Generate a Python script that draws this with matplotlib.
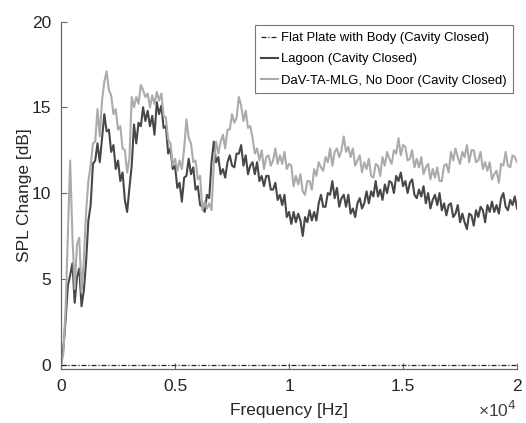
import numpy as np
import matplotlib
matplotlib.use("Agg")
import matplotlib.pyplot as plt

plt.rcParams['font.family'] = ['Liberation Sans', 'DejaVu Sans']

# frequency grid [Hz], 100 Hz steps
freq = np.arange(0, 20001, 100)

flat_plate = np.zeros(len(freq))

lagoon = [
    0.0, 0.9, 2.6, 4.6, 5.2, 5.9, 3.6, 5.1, 5.6, 3.4,
    4.3, 6.0, 8.4, 9.3, 11.7, 11.9, 12.9, 11.8, 13.2, 14.6,
    13.6, 13.7, 12.4, 12.8, 11.4, 11.9, 10.7, 11.2, 9.6, 8.9,
    10.3, 11.6, 14.0, 12.9, 14.1, 13.9, 15.0, 14.2, 14.8, 13.9,
    14.5, 13.4, 15.3, 14.6, 15.1, 13.8, 13.9, 12.3, 12.6, 11.4,
    11.6, 10.3, 10.6, 9.5, 10.9, 11.0, 12.0, 11.1, 11.5, 10.2,
    10.4, 9.3, 9.2, 8.9, 9.9, 9.7,
    11.8, 13.0, 11.8, 12.1, 11.1, 11.4, 10.9, 11.8, 12.2, 11.6,
    11.5, 12.3, 12.3, 12.8, 11.6, 12.2, 11.1, 11.6, 11.8, 11.1,
    11.8, 10.7, 11.0, 10.4, 11.0, 11.0, 10.2, 10.2, 10.6, 9.6,
    9.9, 9.3, 9.9, 8.6, 8.9, 8.2, 8.9, 8.3, 8.8, 8.4,
    7.5, 8.6, 8.3, 9.0, 8.4, 8.9, 8.4, 9.4, 9.9, 9.2,
    9.2, 10.0, 9.9, 10.7, 9.7, 10.3, 9.2, 9.7, 9.9, 9.2,
    9.9, 8.8, 9.1, 8.6, 9.4, 9.7, 9.1, 9.4, 10.1, 9.4,
    10.1, 9.8, 10.7, 9.8, 10.2, 9.6, 10.5, 10.0, 10.7, 10.6,
    10.0, 11.0, 10.7, 11.2, 10.4, 10.7, 10.0, 10.6, 10.8, 9.9,
    9.7, 10.2, 9.8, 10.4, 9.4, 10.0, 9.1, 9.6, 9.9, 9.3,
    10.0, 9.0, 9.4, 8.7, 9.3, 9.4, 8.6, 8.8, 9.3, 8.3,
    8.8, 8.3, 7.9, 8.8, 8.7, 8.1, 9.0, 8.6, 9.2, 9.0,
    8.3, 9.3, 8.9, 9.5, 8.9, 9.3, 8.8, 9.7, 10.0, 9.2,
    9.0, 9.6, 9.3, 9.8, 9.1,
]

dav = [
    0.0, 0.6, 3.2, 7.6, 11.9, 7.5, 4.4, 7.0, 7.4, 4.2,
    6.1, 8.9, 10.7, 11.6, 12.9, 13.0, 14.9, 13.3, 15.4, 16.5,
    17.1, 16.0, 15.7, 14.6, 14.9, 13.7, 13.9, 12.6, 12.5, 11.2,
    12.0, 15.6, 15.0, 15.6, 15.2, 16.3, 16.0, 15.6, 15.8, 15.0,
    15.7, 15.2, 15.9, 15.4, 15.8, 14.5, 14.4, 13.1, 12.9, 11.6,
    12.0, 11.3, 11.9, 11.4, 12.6, 14.3, 13.2, 12.9, 11.8, 11.9,
    10.8, 11.0, 9.0, 9.5, 9.1, 9.4, 9.0,
    11.7, 13.0, 12.3, 13.0, 13.4, 12.6, 13.7, 13.7, 14.6, 14.1,
    14.4, 15.6, 15.1, 14.2, 14.8, 13.8, 13.9, 13.2, 12.3, 12.6,
    11.9, 12.5, 11.4, 12.1, 12.2, 11.6, 11.9, 12.6, 11.7, 12.2,
    11.7, 12.4, 11.4, 11.7, 11.6, 10.4, 11.0, 10.5, 11.1, 10.1,
    9.9, 10.7, 10.7, 10.2, 11.4, 11.0, 11.8, 11.5, 11.3, 12.1,
    11.8, 12.6, 11.6, 12.4, 12.6, 12.1, 12.5, 13.3, 12.4, 12.7,
    12.1, 12.6, 11.6, 11.9, 12.2, 11.2, 11.8, 11.4, 12.0, 11.0,
    10.9, 11.7, 11.6, 11.0, 12.1, 11.6, 12.4, 12.0, 11.7, 12.5,
    12.3, 13.2, 12.2, 12.8, 12.7, 11.9, 12.0, 12.5, 11.5, 12.0,
    11.5, 12.1, 11.1, 11.5, 11.7, 10.8, 11.4, 10.9, 11.5, 10.7,
    10.7, 11.6, 11.7, 11.2, 12.4, 11.9, 12.6, 12.1, 11.7, 12.4,
    12.1, 12.8, 11.8, 12.5, 12.5, 11.8, 11.9, 12.4, 11.4, 11.8,
    11.3, 11.8, 10.8, 11.1, 11.3, 10.6, 11.7, 11.6, 12.4, 11.6,
    11.5, 12.2, 12.1, 11.8,
]

labels = ["Flat Plate with Body (Cavity Closed)",
          "Lagoon (Cavity Closed)",
          "DaV-TA-MLG, No Door (Cavity Closed)"]

x_ticks = [0, 5000, 10000, 15000, 20000]
x_ticklabels = ["0", "0.5", "1", "1.5", "2"]
y_ticks = [0, 5, 10, 15, 20]

fig = plt.figure(figsize=(5.26, 4.23), dpi=100)
ax = fig.add_axes([0.116, 0.128, 0.867, 0.821])

ax.plot(freq, flat_plate, color='#222222', lw=0.9, ls=(0, (4, 1.5, 1, 1.5)), label=labels[0])
ax.plot(freq, lagoon, color='#474747', lw=1.5, label=labels[1])
ax.plot(freq, dav, color='#ababab', lw=1.5, label=labels[2])

ax.set_xlim(0, 20000)
ax.set_ylim(-0.25, 20)
ax.set_xticks(x_ticks)
ax.set_xticklabels(x_ticklabels)
ax.set_yticks(y_ticks)

for s in ['top', 'right']:
    ax.spines[s].set_visible(False)
for s in ['left', 'bottom']:
    ax.spines[s].set_color('#6a6a6a')
    ax.spines[s].set_linewidth(0.9)

ax.tick_params(direction='in', length=4, width=0.8, color='#6a6a6a',
               labelsize=12.5, labelcolor='#262626')
ax.tick_params(axis='y', pad=7)
ax.tick_params(axis='x', pad=7)

ax.set_xlabel("Frequency [Hz]", fontsize=12.5, color='#262626', labelpad=7)
ax.set_ylabel("SPL Change [dB]", fontsize=12.5, color='#262626', labelpad=0)
ax.text(1.0, -0.148, "×10$^{4}$", transform=ax.transAxes, ha='right', va='bottom',
        fontsize=12.5, color='#404040')

leg = ax.legend(loc='upper right', fontsize=9.4, frameon=True, fancybox=False,
                handlelength=1.3, handletextpad=0.2, borderpad=0.5,
                labelspacing=0.7, borderaxespad=0.3)
leg.get_frame().set_edgecolor('#555555')
leg.get_frame().set_linewidth(0.8)

fig.savefig("out.png", dpi=100)
